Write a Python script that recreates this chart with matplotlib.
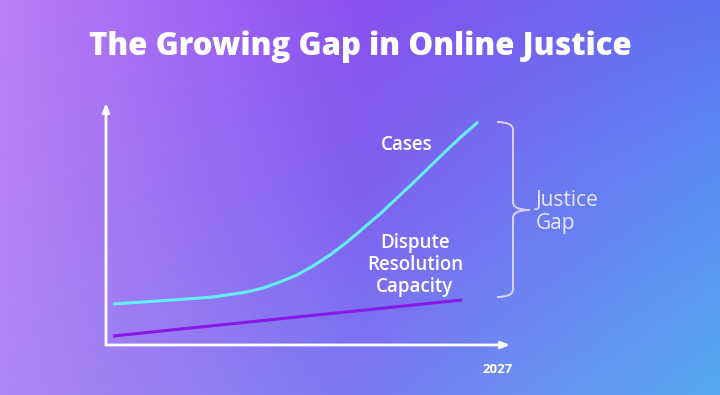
import numpy as np
import matplotlib
matplotlib.use("Agg")
import matplotlib.pyplot as plt
from matplotlib.path import Path
from matplotlib.patches import PathPatch

# ---- data (timeline position 0..100, level 0..100) ----
cases_t = [1.73, 10.89, 18.32, 26.49, 34.90, 38.86, 43.07, 47.28, 51.24, 55.45, 59.65,
           63.61, 67.82, 71.78, 75.99, 80.20, 84.41, 88.12, 92.08]
cases_v = [16.94, 17.98, 18.80, 19.83, 21.90, 23.55, 26.03, 28.93, 32.64, 37.19, 42.56,
           48.14, 54.13, 60.33, 66.94, 73.76, 80.58, 86.36, 92.15]
capacity_t = [1.7, 88.1]
capacity_v = [3.7, 18.6]
tick_pos = [97]
tick_labels = ["2027"]

title = "The Growing Gap in Online Justice"

W, H = 720, 395
fig = plt.figure(figsize=(W / 100, H / 100), dpi=100)

# ---- background gradient ----
bg = fig.add_axes([0, 0, 1, 1], zorder=-10)
grid = np.array([
    [[0xb9, 0x7f, 0xf7], [0x8a, 0x50, 0xf0], [0x5c, 0x73, 0xf1]],
    [[0xb5, 0x81, 0xf6], [0x80, 0x62, 0xef], [0x5a, 0x90, 0xf2]],
    [[0xae, 0x85, 0xf5], [0x7a, 0x7a, 0xf1], [0x56, 0xaa, 0xf3]],
]) / 255.0
ny, nx = 200, 360
yy = np.linspace(0, 2, ny)[:, None]
xx = np.linspace(0, 2, nx)[None, :]
img = np.zeros((ny, nx, 3))
for c in range(3):
    g = grid[:, :, c]
    x0 = np.clip(np.floor(xx).astype(int), 0, 1)
    y0 = np.clip(np.floor(yy).astype(int), 0, 1)
    fx = xx - x0
    fy = yy - y0
    v = (g[y0, x0] * (1 - fx) * (1 - fy) + g[y0, x0 + 1] * fx * (1 - fy)
         + g[y0 + 1, x0] * (1 - fx) * fy + g[y0 + 1, x0 + 1] * fx * fy)
    img[:, :, c] = v
bg.imshow(img, aspect="auto", extent=[0, 1, 0, 1], origin="upper", interpolation="bicubic")
bg.set_xlim(0, 1)
bg.set_ylim(0, 1)
bg.axis("off")

# ---- plot axes ----
x0p, x1p = 106, 510
y0p, y1p = 345, 103
ax = fig.add_axes([x0p / W, (H - y0p) / H, (x1p - x0p) / W, (y0p - y1p) / H])
ax.set_xlim(0, 100)
ax.set_ylim(0, 100)
ax.patch.set_alpha(0)
for s in ax.spines.values():
    s.set_visible(False)
ax.set_yticks([])
ax.set_xticks(tick_pos)
ax.set_xticklabels(tick_labels, fontsize=9.5, fontweight="bold", color="white", family="Open Sans")
ax.tick_params(axis="x", length=0, pad=13)

# axis arrows
for xy in [(100, 0), (0, 100)]:
    ax.annotate("", xy=xy, xytext=(0, 0), xycoords="data",
                arrowprops=dict(arrowstyle="-|>,head_length=0.5,head_width=0.2", color="white", lw=2,
                                shrinkA=0, shrinkB=0),
                annotation_clip=False)

ax.plot(cases_t, cases_v, color="#62f0f4", lw=2.2, solid_capstyle="butt", solid_joinstyle="round", zorder=3)
ax.plot(capacity_t, capacity_v, color="#8818e8", lw=2.2, solid_capstyle="butt", zorder=3)

# labels
lab = dict(color="white", family="Open Sans", fontweight="semibold", fontsize=13.5, ha="center", va="center")
fig.text(407 / W, 1 - 145 / H, "Cases", **lab)
fig.text(415 / W, 1 - 265 / H, "Dispute\nResolution\nCapacity", linespacing=1.13, **lab)
fig.text(536 / W, 1 - 212 / H, "Justice\nGap", color="#ece6ff", family="Open Sans", fontsize=15,
         ha="left", va="center", linespacing=1.1)

# title
fig.text(360 / W, 1 - 47 / H, title, color="white", family="Open Sans", fontweight="heavy",
         fontsize=22.5, ha="center", va="center")

# brace
def px(x, y):
    return (x / W, 1 - y / H)

top, bot, mid = 122, 297, 210
xl, xb, xt = 497, 513, 530
verts = [
    px(xl, top), px(xb, top), px(xb, top + 8),
    px(xb, mid - 8),
    px(xb, mid), px(xt, mid),
    px(xb, mid), px(xb, mid + 8),
    px(xb, bot - 8),
    px(xb, bot), px(xl, bot),
]
codes = [Path.MOVETO, Path.CURVE3, Path.CURVE3,
         Path.LINETO,
         Path.CURVE3, Path.CURVE3,
         Path.CURVE3, Path.CURVE3,
         Path.LINETO,
         Path.CURVE3, Path.CURVE3]
fig.patches.append(PathPatch(Path(verts, codes), transform=fig.transFigure, fill=False,
                             edgecolor="#e6defc", lw=1.4, alpha=0.9))

fig.savefig("out.png", dpi=100)
